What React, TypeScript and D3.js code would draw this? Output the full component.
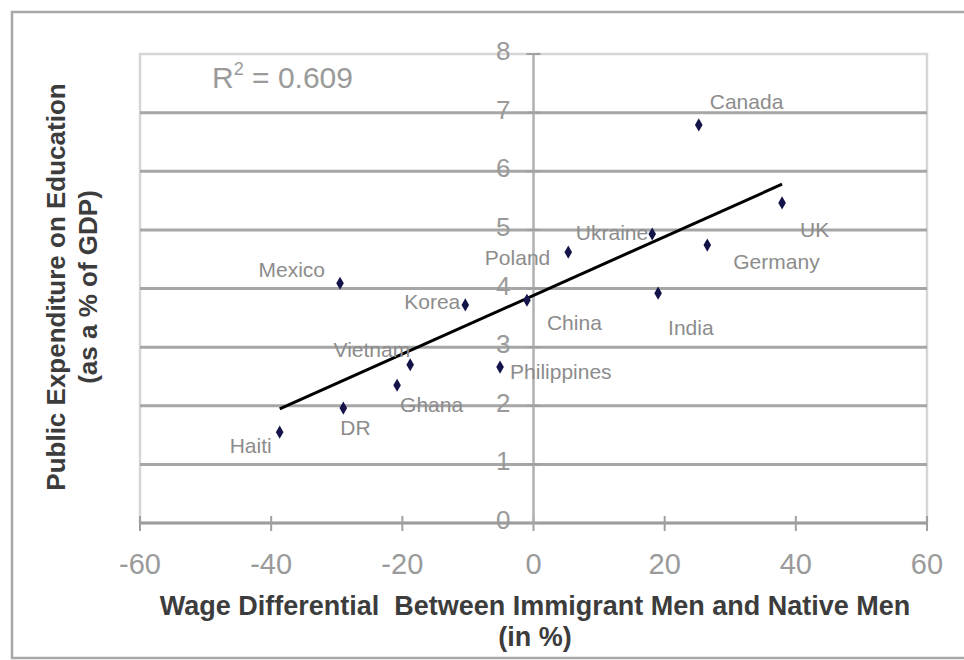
import React from "react";
import * as d3 from "d3";

const countries = ["Haiti", "DR", "Ghana", "Vietnam", "Mexico", "Korea", "Philippines", "China", "Poland", "Ukraine", "India", "Canada", "Germany", "UK"];
const wageDiff = [-38.7, -29.0, -20.8, -18.8, -29.5, -10.4, -5.1, -1.0, 5.3, 18.1, 19.0, 25.2, 26.5, 37.9];
const eduSpend = [1.55, 1.96, 2.35, 2.7, 4.09, 3.72, 2.66, 3.8, 4.62, 4.93, 3.92, 6.79, 4.74, 5.46];
const xTicks = [-60, -40, -20, 0, 20, 40, 60];
const yTicks = [0, 1, 2, 3, 4, 5, 6, 7, 8];
const rSquaredText = "0.609";
const yTitleLines = ["Public Expenditure on Education", "(as a % of GDP)"];
const xTitleLines = ["Wage Differential  Between Immigrant Men and Native Men", "(in %)"];

// label placement relative to each point (layout, not data)
const labelPlacement: Record<string, { dx: number; dy: number; anchor: string }> = {
  Haiti: { dx: -8, dy: 14, anchor: "end" },
  DR: { dx: -3, dy: 20, anchor: "start" },
  Ghana: { dx: 3, dy: 20, anchor: "start" },
  Vietnam: { dx: 0, dy: -15, anchor: "end" },
  Mexico: { dx: -15, dy: -13, anchor: "end" },
  Korea: { dx: -5, dy: -3, anchor: "end" },
  Philippines: { dx: 10, dy: 5, anchor: "start" },
  China: { dx: 20, dy: 23, anchor: "start" },
  Poland: { dx: -18, dy: 6, anchor: "end" },
  Ukraine: { dx: -4, dy: -1, anchor: "end" },
  India: { dx: 10, dy: 35, anchor: "start" },
  Canada: { dx: 11, dy: -23, anchor: "start" },
  Germany: { dx: 26, dy: 17, anchor: "start" },
  UK: { dx: 18, dy: 27, anchor: "start" },
};

const W = 964;
const H = 660;
const plot = { left: 140, right: 927, top: 54, bottom: 523 };
const FONT = "'Liberation Sans', Arial, sans-serif";

export default function App() {
  const x = d3.scaleLinear().domain([-60, 60]).range([plot.left, plot.right]);
  const y = d3.scaleLinear().domain([0, 8]).range([plot.bottom, plot.top]);

  const pts = countries.map((c, i) => ({ c, x: wageDiff[i], y: eduSpend[i] }));
  const mx = d3.mean(pts, (p) => p.x) as number;
  const my = d3.mean(pts, (p) => p.y) as number;
  const sxy = d3.sum(pts, (p) => (p.x - mx) * (p.y - my));
  const sxx = d3.sum(pts, (p) => (p.x - mx) ** 2);
  const slope = sxy / sxx;
  const intercept = my - slope * mx;
  const [xmin, xmax] = d3.extent(pts, (p) => p.x) as [number, number];
  const trend = d3
    .line<number>()
    .x((v) => x(v))
    .y((v) => y(intercept + slope * v))([xmin, xmax]);

  const diamond = d3.symbol().type(d3.symbolDiamond).size(50)();

  return (
    <svg width={W} height={H} style={{ position: "absolute", left: 0, top: 0, background: "#fff" }} fontFamily={FONT}>
      <rect x={0} y={0} width={W} height={H} fill="#fff" />
      {/* outer chart border */}
      <rect x={12} y={12} width={W} height={646} fill="none" stroke="#a8a8a8" strokeWidth={2.5} />
      {/* plot area border */}
      <rect x={plot.left} y={plot.top} width={plot.right - plot.left} height={plot.bottom - plot.top} fill="none" stroke="#d6d6d6" strokeWidth={2.5} />
      {/* gridlines */}
      {yTicks.filter((t) => t > 0 && t < 8).map((t) => (
        <line key={t} x1={plot.left} x2={plot.right} y1={y(t)} y2={y(t)} stroke="#a6a6a6" strokeWidth={3} />
      ))}
      {/* x axis */}
      <line x1={plot.left} x2={plot.right} y1={y(0)} y2={y(0)} stroke="#9c9c9c" strokeWidth={3} />
      {xTicks.map((t) => (
        <line key={t} x1={x(t)} x2={x(t)} y1={y(0) - 7} y2={y(0) + 8} stroke="#a0a0a0" strokeWidth={2} />
      ))}
      {/* y axis */}
      <line x1={x(0)} x2={x(0)} y1={plot.top} y2={y(0) + 2} stroke="#b0b0b0" strokeWidth={2.5} />
      {yTicks.map((t) => (
        <line key={t} x1={x(0) - 7} x2={x(0) + 7} y1={y(t)} y2={y(t)} stroke="#a0a0a0" strokeWidth={2} />
      ))}
      {/* tick labels */}
      {xTicks.map((t) => (
        <text key={t} x={x(t)} y={574} textAnchor="middle" fontSize={29} fill="#9a9a9a">
          {t}
        </text>
      ))}
      {yTicks.map((t) => (
        <text key={t} x={x(0) - 23} y={y(t) + 6} textAnchor="end" fontSize={26} fill="#9a9a9a">
          {t}
        </text>
      ))}
      {/* trend line */}
      <path d={trend || ""} stroke="#000" strokeWidth={3} fill="none" />
      {/* points */}
      {pts.map((p) => (
        <path key={p.c} d={diamond || ""} transform={`translate(${x(p.x)},${y(p.y)})`} fill="#14144a" />
      ))}
      {/* labels */}
      {pts.map((p) => {
        const lp = labelPlacement[p.c];
        return (
          <text key={p.c} x={x(p.x) + lp.dx} y={y(p.y) + lp.dy + 7} textAnchor={lp.anchor} fontSize={21} fill="#8c8c8c">
            {p.c}
          </text>
        );
      })}
      {/* R squared */}
      <text x={212} y={88} fontSize={30} fill="#9a9a9a">
        R<tspan fontSize={18} dy={-13}>2</tspan>
        <tspan dy={13}>{" = " + rSquaredText}</tspan>
      </text>
      {/* axis titles */}
      <g transform="translate(0,287)">
        {yTitleLines.map((l, i) => (
          <text key={i} transform={`translate(${65 + i * 32},0) rotate(-90)`} textAnchor="middle" fontSize={26} fontWeight="bold" fill="#3c3c3c">
            {l}
          </text>
        ))}
      </g>
      {xTitleLines.map((l, i) => (
        <text key={i} x={535} y={615 + i * 31} textAnchor="middle" fontSize={27} fontWeight="bold" fill="#3c3c3c" style={{ whiteSpace: "pre" }}>
          {l}
        </text>
      ))}
    </svg>
  );
}
